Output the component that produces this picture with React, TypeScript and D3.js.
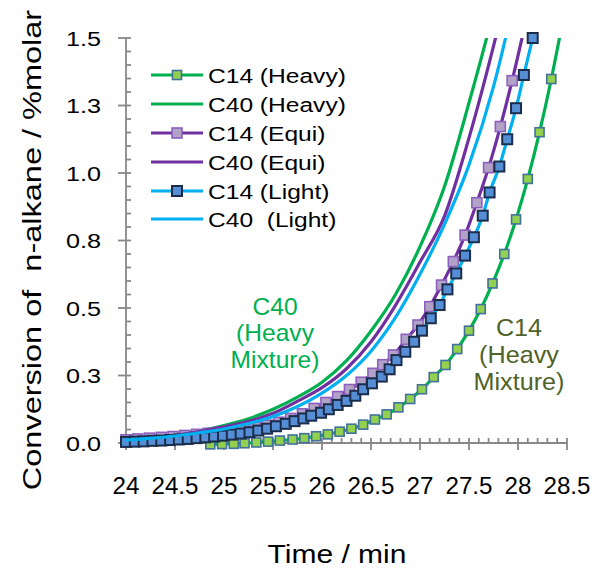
import React from "react";
import * as d3 from "d3";

// ---------- data ----------
const c14HeavyT = [24.86, 24.98, 25.10, 25.21, 25.33, 25.45, 25.57, 25.70, 25.82, 25.94, 26.06, 26.18, 26.30, 26.42, 26.54, 26.66, 26.78, 26.90, 27.02, 27.14, 27.26, 27.38, 27.50, 27.62, 27.74, 27.86, 27.98, 28.10, 28.22, 28.34, 28.46];
const c14HeavyV = [-0.005, -0.004, -0.003, -0.001, 0.002, 0.005, 0.009, 0.013, 0.018, 0.025, 0.032, 0.042, 0.053, 0.068, 0.087, 0.106, 0.132, 0.163, 0.199, 0.244, 0.289, 0.348, 0.416, 0.496, 0.591, 0.700, 0.828, 0.978, 1.151, 1.348, 1.57];

const c14EquiT = [24.00, 24.12, 24.24, 24.36, 24.48, 24.60, 24.72, 24.84, 24.96, 25.08, 25.20, 25.32, 25.44, 25.56, 25.68, 25.80, 25.92, 26.04, 26.16, 26.28, 26.40, 26.52, 26.62, 26.73, 26.86, 26.98, 27.10, 27.22, 27.34, 27.46, 27.58, 27.70, 27.82, 27.94, 28.06];
const c14EquiV = [0.012, 0.015, 0.018, 0.021, 0.024, 0.028, 0.032, 0.036, 0.041, 0.046, 0.052, 0.058, 0.066, 0.077, 0.091, 0.108, 0.128, 0.150, 0.172, 0.198, 0.225, 0.258, 0.290, 0.326, 0.384, 0.437, 0.505, 0.585, 0.672, 0.770, 0.890, 1.020, 1.172, 1.342, 1.53];

const c14LightT = [24.00, 24.09, 24.18, 24.27, 24.36, 24.45, 24.54, 24.63, 24.72, 24.81, 24.90, 24.99, 25.08, 25.17, 25.26, 25.35, 25.44, 25.53, 25.63, 25.72, 25.81, 25.89, 25.99, 26.07, 26.16, 26.25, 26.34, 26.42, 26.51, 26.61, 26.69, 26.76, 26.85, 26.94, 27.02, 27.11, 27.20, 27.28, 27.37, 27.46, 27.55, 27.64, 27.71, 27.81, 27.89, 27.98, 28.06, 28.15];
const c14LightV = [0.004, 0.005, 0.006, 0.008, 0.009, 0.011, 0.013, 0.015, 0.018, 0.021, 0.024, 0.027, 0.031, 0.035, 0.040, 0.046, 0.053, 0.062, 0.071, 0.081, 0.091, 0.101, 0.112, 0.125, 0.141, 0.156, 0.175, 0.199, 0.221, 0.246, 0.273, 0.307, 0.338, 0.375, 0.416, 0.462, 0.511, 0.569, 0.628, 0.694, 0.762, 0.842, 0.928, 1.024, 1.125, 1.240, 1.363, 1.500];

const c40T = [24, 24.25, 24.5, 24.75, 25, 25.25, 25.5, 25.75, 26, 26.25, 26.5, 26.75, 27, 27.25, 27.5, 27.75, 28.0];
const c40HeavyV = [0.012, 0.02, 0.03, 0.045, 0.065, 0.09, 0.125, 0.17, 0.225, 0.305, 0.415, 0.55, 0.727, 0.95, 1.26, 1.6, 2.0];
const c40EquiV = [0.012, 0.019, 0.028, 0.042, 0.06, 0.08, 0.11, 0.155, 0.205, 0.275, 0.375, 0.51, 0.67, 0.84, 1.13, 1.47, 1.85];
const c40LightV = [0.011, 0.017, 0.026, 0.038, 0.052, 0.072, 0.098, 0.135, 0.185, 0.25, 0.34, 0.465, 0.625, 0.81, 1.03, 1.32, 1.7];

const xTickValues = [24, 24.5, 25, 25.5, 26, 26.5, 27, 27.5, 28, 28.5];
const xTickLabels = ["24", "24.5", "25", "25.5", "26", "26.5", "27", "27.5", "28", "28.5"];
const yTickValues = [0, 0.25, 0.5, 0.75, 1.0, 1.25, 1.5];
const yTickLabels = ["0.0", "0.3", "0.5", "0.8", "1.0", "1.3", "1.5"];

const legendLabels = ["C14 (Heavy)", "C40 (Heavy)", "C14 (Equi)", "C40 (Equi)", "C14 (Light)", "C40  (Light)"];

// ---------- styles ----------
const FONT = "'Liberation Sans', Arial, sans-serif";
const GREEN = "#00b050";
const PURPLE = "#7030a0";
const CYAN = "#00b0f0";
const AXIS = "#888888";

type Marker = { fill: string; stroke: string; sw: number; size: number } | null;
type Series = { t: number[]; v: number[]; color: string; marker: Marker };

const series: Series[] = [
  { t: c14HeavyT, v: c14HeavyV, color: GREEN, marker: { fill: "#92d050", stroke: "#41719c", sw: 1.6, size: 9 } },
  { t: c40T, v: c40HeavyV, color: GREEN, marker: null },
  { t: c14EquiT, v: c14EquiV, color: PURPLE, marker: { fill: "#b3a2c7", stroke: "#8d5fbd", sw: 1.6, size: 10 } },
  { t: c40T, v: c40EquiV, color: PURPLE, marker: null },
  { t: c14LightT, v: c14LightV, color: CYAN, marker: { fill: "#558ed5", stroke: "#1b2d4a", sw: 2, size: 10 } },
  { t: c40T, v: c40LightV, color: CYAN, marker: null },
];

const L = 126, R = 567, T = 38, B = 443;

function SText(props: { x: number; y: number; sx?: number; size: number; anchor?: string; fill?: string; rotate?: number; children: React.ReactNode }) {
  const { x, y, sx = 1, size, anchor = "start", fill = "#000", rotate = 0, children } = props;
  return (
    <text
      transform={`translate(${x},${y}) rotate(${rotate}) scale(${sx},1)`}
      fontSize={size}
      textAnchor={anchor}
      fill={fill}
      fontFamily={FONT}
      style={{ whiteSpace: "pre" }}
    >
      {children}
    </text>
  );
}

export default function App() {
  const x = d3.scaleLinear().domain([24, 28.5]).range([L, R]);
  const y = d3.scaleLinear().domain([0, 1.5]).range([B, T]);
  const line = d3
    .line<[number, number]>()
    .x((d) => x(d[0]))
    .y((d) => y(d[1]))
    .curve(d3.curveMonotoneX);

  const xMinor = d3.range(0, 46).map((i) => 24 + i * 0.1).filter((v) => Math.abs((v * 2) % 1) > 0.01 && Math.abs((v * 2) % 1) < 0.99);
  const yMinor = d3.range(0, 31).map((i) => i * 0.05).filter((v) => Math.abs((v * 4) % 1) > 0.01 && Math.abs((v * 4) % 1) < 0.99);

  const legendY = [75, 104, 133, 162, 191, 219];

  return (
    <svg width={594} height={569} style={{ position: "absolute", left: 0, top: 0 }}>
      <defs>
        <clipPath id="plotClip">
          <rect x={L} y={T} width={R - L + 10} height={B - T + 20} />
        </clipPath>
      </defs>
      <rect x={0} y={0} width={594} height={569} fill="#fff" />

      {/* axes */}
      <g stroke={AXIS} strokeWidth={1.8} fill="none">
        <line x1={L} y1={T} x2={L} y2={B} />
        <line x1={L} y1={B} x2={R} y2={B} />
        {yTickValues.map((v, i) => (
          <line key={"yt" + i} x1={L - 8} x2={L + 5} y1={y(v)} y2={y(v)} />
        ))}
        {yMinor.map((v, i) => (
          <line key={"ym" + i} x1={L} x2={L + 5} y1={y(v)} y2={y(v)} />
        ))}
        {xTickValues.map((v, i) => (
          <line key={"xt" + i} x1={x(v)} x2={x(v)} y1={B - 5} y2={B + 7} />
        ))}
        {xMinor.map((v, i) => (
          <line key={"xm" + i} x1={x(v)} x2={x(v)} y1={B - 5} y2={B} />
        ))}
      </g>

      {/* tick labels */}
      {yTickValues.map((v, i) => (
        <SText key={"yl" + i} x={101} y={y(v) + 7.5} size={21} sx={1.2} anchor="end">
          {yTickLabels[i]}
        </SText>
      ))}
      {xTickValues.map((v, i) => (
        <SText key={"xl" + i} x={x(v)} y={494} size={23} sx={1.05} anchor="middle">
          {xTickLabels[i]}
        </SText>
      ))}

      {/* axis titles */}
      <SText x={337} y={563} size={25} sx={1.2} anchor="middle">Time / min</SText>
      <SText x={41} y={250} size={26} sx={1.25} anchor="middle" rotate={-90}>
        {"Conversion of  n-alkane / %molar"}
      </SText>

      {/* series */}
      {series.map((s, i) => {
        const pts = s.t.map((t, j) => [t, s.v[j]] as [number, number]);
        return (
          <g key={"s" + i}>
            <g clipPath="url(#plotClip)">
              <path d={line(pts) || ""} fill="none" stroke={s.color} strokeWidth={3.2} strokeLinejoin="round" />
            </g>
            {s.marker &&
              pts
                .filter((p) => p[1] <= 1.5001)
                .map((p, j) => (
                  <rect
                    key={j}
                    x={x(p[0]) - s.marker!.size / 2}
                    y={y(p[1]) - s.marker!.size / 2}
                    width={s.marker!.size}
                    height={s.marker!.size}
                    fill={s.marker!.fill}
                    stroke={s.marker!.stroke}
                    strokeWidth={s.marker!.sw}
                  />
                ))}
          </g>
        );
      })}

      {/* legend */}
      {series.map((s, i) => (
        <g key={"lg" + i}>
          <line x1={151} x2={203} y1={legendY[i]} y2={legendY[i]} stroke={s.color} strokeWidth={3.2} />
          {s.marker && (
            <rect
              x={177 - s.marker.size / 2}
              y={legendY[i] - s.marker.size / 2}
              width={s.marker.size}
              height={s.marker.size}
              fill={s.marker.fill}
              stroke={s.marker.stroke}
              strokeWidth={s.marker.sw}
            />
          )}
          <SText x={208} y={legendY[i] + 8} size={21} sx={1.17}>
            {legendLabels[i]}
          </SText>
        </g>
      ))}

      {/* annotations */}
      <SText x={275} y={315} size={23} sx={1.07} anchor="middle" fill={GREEN}>C40</SText>
      <SText x={275} y={341} size={23} sx={1.07} anchor="middle" fill={GREEN}>(Heavy</SText>
      <SText x={275} y={368} size={23} sx={1.07} anchor="middle" fill={GREEN}>Mixture)</SText>

      <SText x={519} y={336} size={24} sx={1.05} anchor="middle" fill="#4f6228">C14</SText>
      <SText x={519} y={363} size={24} sx={1.05} anchor="middle" fill="#4f6228">(Heavy</SText>
      <SText x={519} y={390} size={24} sx={1.05} anchor="middle" fill="#4f6228">Mixture)</SText>
    </svg>
  );
}
